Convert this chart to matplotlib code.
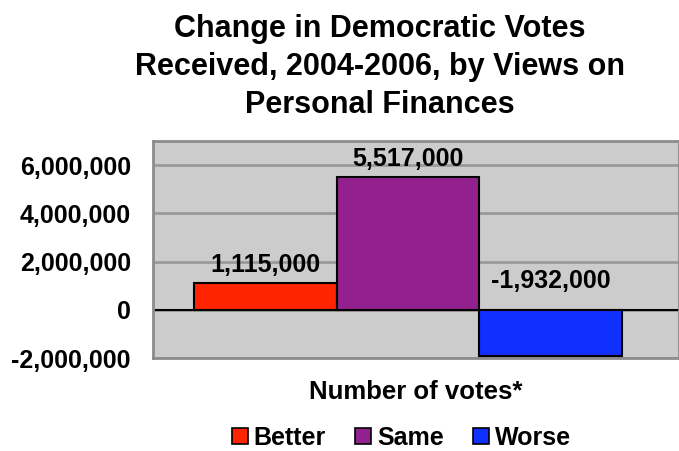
import matplotlib
matplotlib.use('Agg')
import matplotlib.pyplot as plt
from matplotlib.ticker import FuncFormatter
from matplotlib.patches import Patch

# change in Democratic votes 2004-2006, by views on personal finances
categories = ['Better', 'Same', 'Worse']
vote_change = [1115000, 5517000, -1932000]
bar_colors = ['#FF2400', '#93208F', '#1030FF']
y_ticks = [-2000000, 0, 2000000, 4000000, 6000000]

plt.rcParams['font.family'] = ['Liberation Sans', 'DejaVu Sans']
plt.rcParams['font.weight'] = 'bold'

fig = plt.figure(figsize=(6.79, 4.51), dpi=100)
ax = fig.add_axes([153 / 679, 93 / 451, 1 - 153 / 679, 217 / 451])
ax.set_facecolor('#CCCCCC')

xs = list(range(len(categories)))
ax.bar(xs, vote_change, width=1.0, color=bar_colors, edgecolor='black',
       linewidth=1.5, zorder=3)

for x, v in zip(xs, vote_change):
    if v >= 0:
        ax.annotate(f'{v:,}', (x, v), xytext=(0, 4.5), textcoords='offset points',
                    ha='center', va='bottom', fontsize=18, fontweight='bold')
    else:
        ax.annotate(f'{v:,}', (x, 0), xytext=(0, 12), textcoords='offset points',
                    ha='center', va='bottom', fontsize=18, fontweight='bold')

ax.set_xlim(-0.79, 2.9)
ax.set_ylim(-2000000, 7000000)
ax.set_yticks(y_ticks)
ax.yaxis.set_major_formatter(FuncFormatter(lambda v, p: f'{int(v):,}'))
ax.tick_params(axis='y', length=0, pad=16, labelsize=18)
ax.set_xticks([])
ax.grid(axis='y', color='#9A9A9A', linewidth=2, zorder=0)
ax.axhline(0, color='black', linewidth=1.5, zorder=2)
for side in ['left', 'bottom', 'top', 'right']:
    ax.spines[side].set_color('#8C8C8C')
    ax.spines[side].set_linewidth(2)

ax.set_xlabel('Number of votes*', fontsize=18.5, fontweight='bold', labelpad=16)

fig.text(0.56, 0.97, 'Change in Democratic Votes\nReceived, 2004-2006, by Views on\nPersonal Finances',
         ha='center', va='top', fontsize=22, fontweight='bold', linespacing=1.35)

handles = [Patch(facecolor=c, edgecolor='black', linewidth=1.2) for c in bar_colors]
fig.legend(handles, categories, loc='lower center', bbox_to_anchor=(0.591, -0.047),
           ncol=3, frameon=False, handlelength=0.64, handleheight=0.64,
           handletextpad=0.24, columnspacing=1.16, prop={'weight': 'bold', 'size': 18})

fig.savefig('out.png', dpi=100)
